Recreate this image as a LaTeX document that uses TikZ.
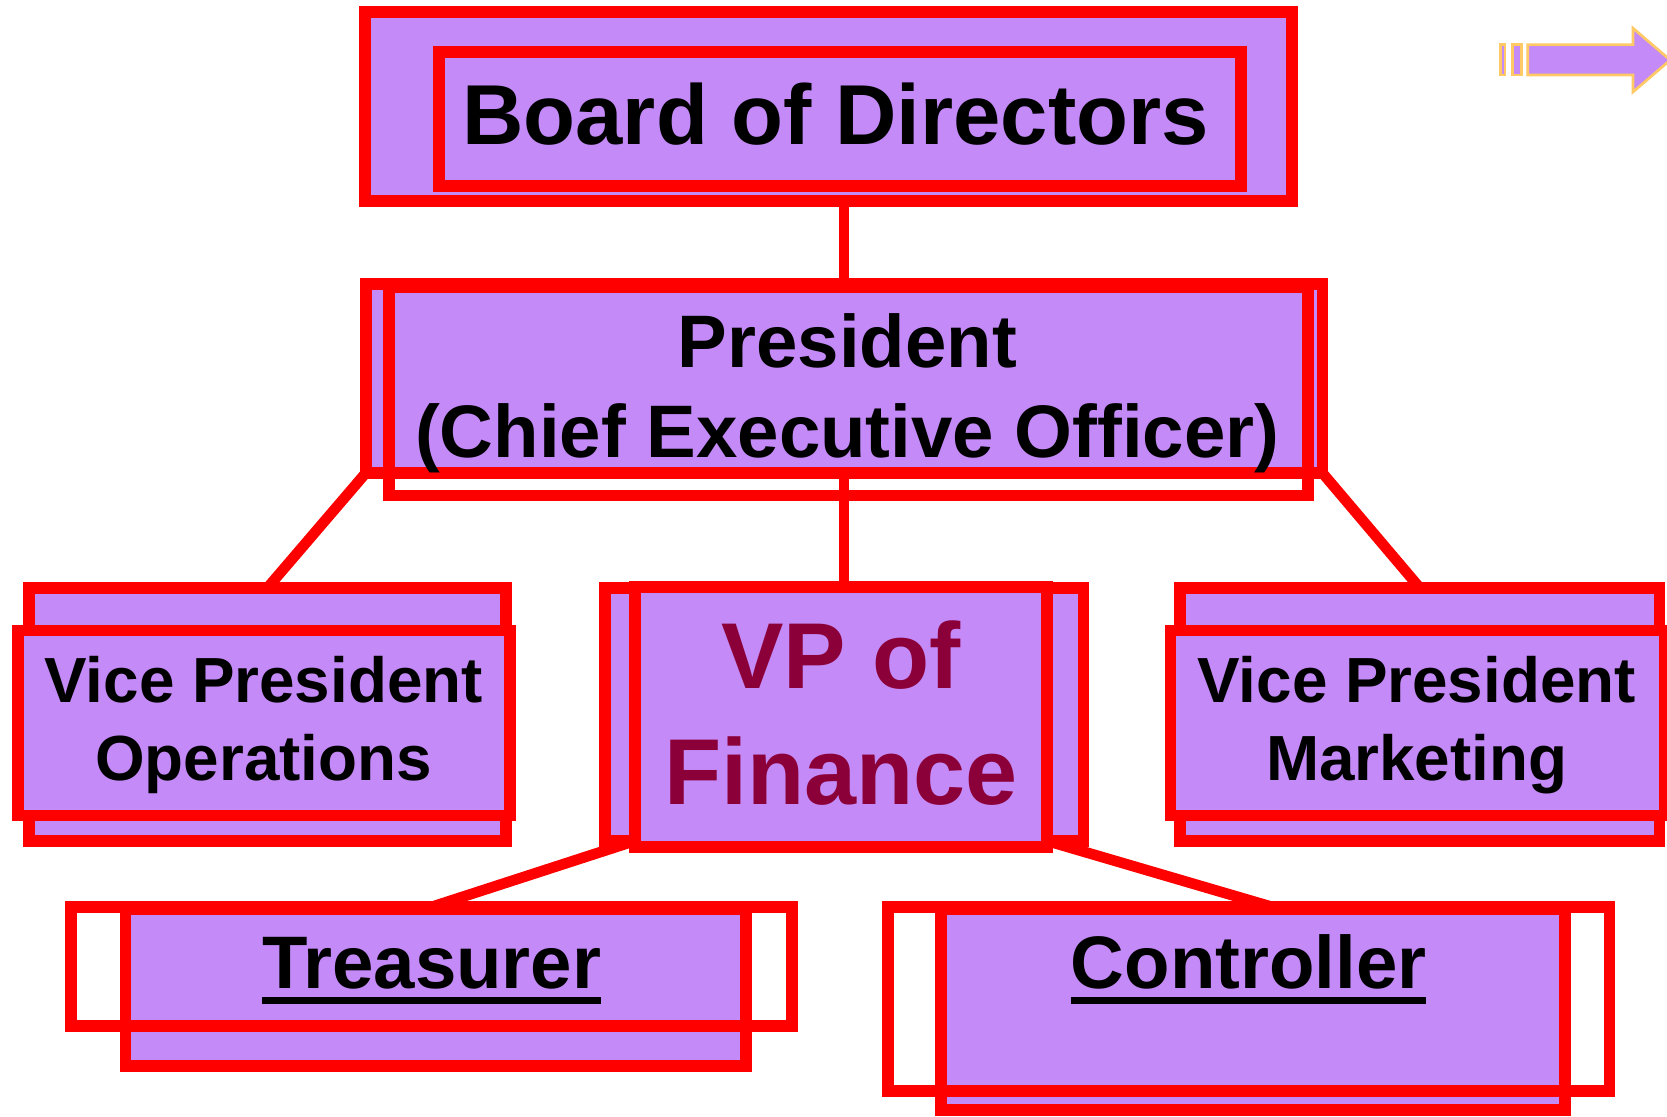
\documentclass[tikz,border=0pt]{standalone}
\usepackage{fontspec}
\setmainfont{Liberation Sans}
\usetikzlibrary{fit,calc,backgrounds}
\definecolor{boxfill}{RGB}{196,138,247}
\definecolor{boxline}{RGB}{255,0,0}
\definecolor{fintext}{RGB}{139,0,56}
\definecolor{arrowline}{RGB}{255,201,102}
\tikzset{
  boxframe/.style={rectangle, draw=boxline, line width=11pt, inner sep=0pt, outer sep=0pt},
  boxfilled/.style={boxframe, fill=boxfill},
  boxhollow/.style={boxframe},
  conn/.style={draw=boxline, line width=10pt},
  lbl/.style={inner sep=0pt, outer sep=0pt, anchor=base, align=center, text=black},
  iconpart/.style={fill=boxfill, draw=arrowline, line width=2.5pt, line join=miter},
}
\begin{document}
\begin{tikzpicture}[x=1pt, y=-1pt]
\useasboundingbox (0,0) rectangle (1568,1050);

% boxes
\node[boxfilled, fit={(343,11) (1215,189)}] (boardout) {};
\node[boxfilled, fit={(413,49) (1167,175)}] (boardin) {};
\node[boxfilled, fit={(344,267) (1244,445)}] (presA) {};
\node[boxhollow, fit={(366,270) (1230,466)}] (presB) {};
\node[boxfilled, fit={(27,553) (476,791)}] (opsC) {};
\node[boxfilled, fit={(17,593) (480,767)}] (opsD) {};
\node[boxfilled, fit={(1110,553) (1561,791)}] (mktE) {};
\node[boxfilled, fit={(1101,593) (1566,767)}] (mktF) {};
\node[boxfilled, fit={(569,553) (1019,791)}] (finG) {};
\node[boxfilled, fit={(597,552) (985,797)}] (finH) {};
\node[boxfilled, fit={(118,855) (702,1003)}] (treasJ) {};
\node[boxhollow, fit={(67,853) (745,965)}] (treasI) {};
\node[boxfilled, fit={(885,855) (1472,1044)}] (ctrlL) {};
\node[boxhollow, fit={(835,853) (1514,1026)}] (ctrlK) {};

% connectors (behind boxes)
\begin{pgfonlayer}{background}
\fill[white] (0,0) rectangle (1568,1050);
\path[conn] (presA.north |- boardout.south) -- (presA.north);
\path[conn] (presA.south) -- (finG.north);
\path[conn] (presA.south west) -- (opsC.north);
\path[conn] (presA.south east) -- (mktE.north);
\path[conn] (finH.west |- finG.south) -- (treasI.north);
\path[conn] (finH.east |- finG.south) -- ([xshift=22pt]ctrlK.north);
\end{pgfonlayer}

% texts
\node[lbl, font=\bfseries\fontsize{80}{96}\selectfont] (boardtxt) at (786,136) {Board of Directors};
\node[lbl, font=\bfseries\fontsize{70}{84}\selectfont] (prestxt) at (797,430) {President\\(Chief Executive Officer)};
\node[lbl, font=\bfseries\fontsize{60}{73}\selectfont] (opstxt) at (248,734) {Vice President\\Operations};
\node[lbl, font=\bfseries\fontsize{60}{73}\selectfont] (mkttxt) at (1332.5,734) {Vice President\\Marketing};
\node[lbl, font=\bfseries\fontsize{88}{109}\selectfont, text=fintext] (fintxt) at (791,757) {VP of\\Finance};
\node[lbl, font=\bfseries\fontsize{70}{84}\selectfont] (treastxt) at (406,930) {Treasurer};
\node[lbl, font=\bfseries\fontsize{70}{84}\selectfont] (ctrltxt) at (1174.5,930) {Controller};
\draw[black, line width=6pt] ([yshift=-11pt]treastxt.base west) -- ([yshift=-11pt]treastxt.base east);
\draw[black, line width=6pt] ([yshift=-11pt]ctrltxt.base west) -- ([yshift=-11pt]ctrltxt.base east);

% navigation arrow icon
\path[iconpart] (1411.5,42) rectangle (1415.5,70.5);
\path[iconpart] (1422.5,42) rectangle (1431,70.5);
\path[iconpart] (1437,42) -- (1536,42) -- (1536,26.5) -- (1571,56.5) -- (1536,86.5) -- (1536,70.5) -- (1437,70.5) -- cycle;
\end{tikzpicture}
\end{document}
